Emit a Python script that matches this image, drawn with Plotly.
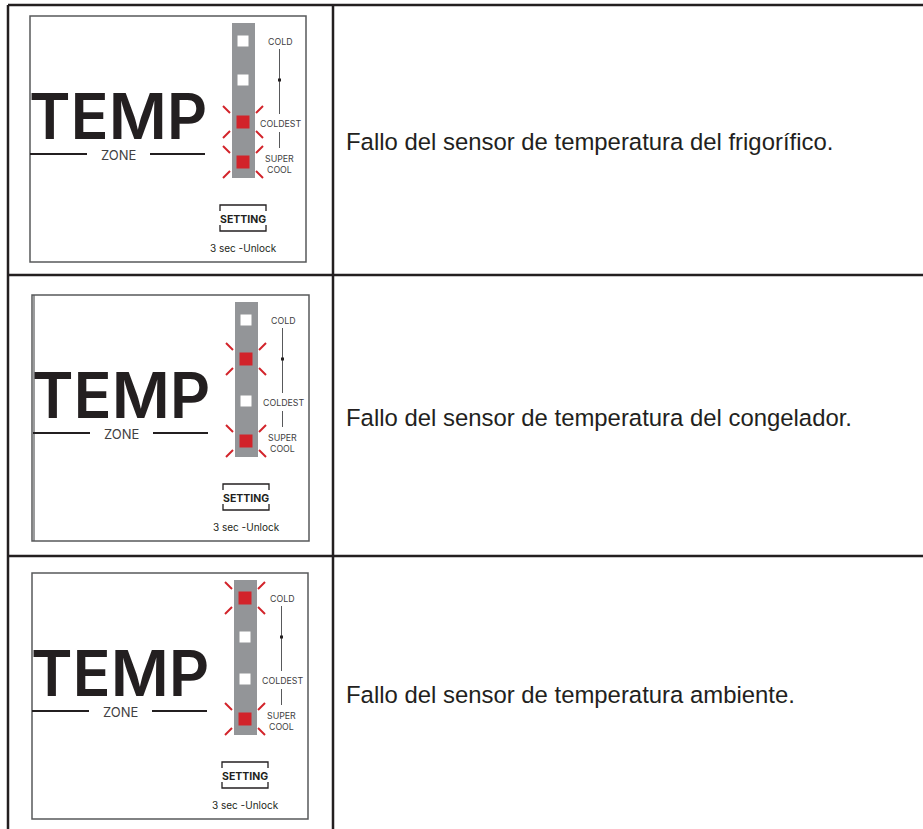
import plotly.graph_objects as go

# ---- data ----
descriptions = [
    "Fallo del sensor de temperatura del frigorífico.",
    "Fallo del sensor de temperatura del congelador.",
    "Fallo del sensor de temperatura ambiente.",
]
led_labels = ["COLD", "", "COLDEST", "SUPER<br>COOL"]
# 1 = red flashing LED, 0 = white (off) LED; order top->bottom
led_states = [
    [0, 0, 1, 1],
    [0, 1, 0, 1],
    [1, 0, 0, 1],
]
panel_title = "TEMP"
panel_sub = "ZONE"
button_text = "SETTING"
button_note = "3 sec -Unlock"

# ---- layout constants (pixels) ----
W, H = 923, 829
INK = "#231f20"
GRAY = "#939598"
RED = "#d2232a"
SANS = "Inter"
row_tops = [5, 275, 556]
col_x = 333
panel_dx = [0, 3, 2]
panel_dy = [0, 279, 557]
led_y = [41, 80, 122, 162]
led_x = 243

fig = go.Figure()
shapes = []
ann = []

def line(x0, y0, x1, y1, color=INK, width=2):
    shapes.append(dict(type="line", x0=x0, y0=y0, x1=x1, y1=y1,
                       xref="x", yref="y", line=dict(color=color, width=width)))

def rect(x0, y0, x1, y1, fill=None, color=None, width=0):
    shapes.append(dict(type="rect", x0=x0, y0=y0, x1=x1, y1=y1, xref="x", yref="y",
                       fillcolor=fill if fill else "rgba(0,0,0,0)",
                       line=dict(color=color if color else "rgba(0,0,0,0)", width=width)))

def text(x, y, s, size, color=INK, family=SANS, xanchor="center", weight="normal", height=None):
    d = dict(x=x, y=y, xref="x", yref="y", text=s, showarrow=False,
             xanchor=xanchor, yanchor="middle",
             font=dict(size=size, color=color, family=family, weight=weight))
    if height:
        d["height"] = height
    ann.append(d)

# table grid
line(8, row_tops[0], W, row_tops[0], width=2.5)
line(8, row_tops[1], W, row_tops[1], width=2.5)
line(8, row_tops[2], W, row_tops[2], width=2.5)
line(8, row_tops[0], 8, H, width=2.5)
line(col_x, row_tops[0], col_x, H, width=2.5)

text_y = [141, 417, 694]

for i, states in enumerate(led_states):
    dx, dy = panel_dx[i], panel_dy[i]
    # panel frame
    rect(30 + dx - (1 if i == 1 else 0), 16 + dy, 306 + dx, 262 + dy, color="#58595b", width=1.5)
    if i == 1:
        line(34, 16 + dy, 34, 262 + dy, color="#58595b", width=1.2)
    # TEMP
    text(118 + dx, 116 + dy, panel_title, 63, weight=600, height=50)
    # ZONE with lines
    line(30 + dx, 154 + dy, 87 + dx, 154 + dy, width=2)
    line(150 + dx, 154 + dy, 205 + dx, 154 + dy, width=2)
    text(118 + dx, 155 + dy, panel_sub, 13, color="#414042")
    # LED strip
    rect(232 + dx, 23 + dy, 255 + dx, 178 + dy, fill=GRAY)
    for j, s in enumerate(states):
        cx, cy = led_x + dx, led_y[j] + dy
        if s:
            rect(cx - 6.5, cy - 6.5, cx + 6.5, cy + 6.5, fill=RED)
            for sx in (-1, 1):
                for sy in (-1, 1):
                    line(cx + sx * 13, cy + sy * 9, cx + sx * 20, cy + sy * 16, color=RED, width=2)
        else:
            rect(cx - 5.5, cy - 5.5, cx + 5.5, cy + 5.5, fill="white")
    # labels
    text(280 + dx, 41 + dy, led_labels[0], 8.8, color="#414042")
    text(280 + dx, 123 + dy, led_labels[2], 8.8, color="#414042")
    text(279 + dx, 164 + dy, led_labels[3], 8.8, color="#414042")
    # connector line + tick square
    line(279.5 + dx, 49 + dy, 279.5 + dx, 114 + dy, color="#58595b", width=1)
    line(279.5 + dx, 132 + dy, 279.5 + dx, 148 + dy, color="#58595b", width=1)
    rect(278 + dx, 78.5 + dy, 281 + dx, 81.5 + dy, fill=INK)
    # SETTING button brackets
    bx0, bx1 = 220 + dx, 266 + dx
    shapes.append(dict(type="path", xref="x", yref="y",
                       path=f"M {bx0},{211+dy} L {bx0},{205+dy} L {bx1},{205+dy} L {bx1},{211+dy}",
                       line=dict(color=INK, width=1.3)))
    shapes.append(dict(type="path", xref="x", yref="y",
                       path=f"M {bx0},{225+dy} L {bx0},{231+dy} L {bx1},{231+dy} L {bx1},{225+dy}",
                       line=dict(color=INK, width=1.3)))
    text(243 + dx, 219 + dy, button_text, 10.5, weight="bold")
    text(243 + dx, 248 + dy, button_note, 10)
    # description
    text(344, text_y[i], descriptions[i], 23.9, xanchor="left", family="Liberation Sans")

fig.update_layout(
    width=W, height=H,
    margin=dict(l=0, r=0, t=0, b=0),
    paper_bgcolor="white", plot_bgcolor="white",
    xaxis=dict(range=[0, W], visible=False, fixedrange=True),
    yaxis=dict(range=[H, 0], visible=False, fixedrange=True),
    shapes=shapes, annotations=ann, showlegend=False,
)
fig.write_html("out.html", config={"displayModeBar": False},
               post_script="document.body.style.margin='0';document.body.style.overflow='hidden';")
